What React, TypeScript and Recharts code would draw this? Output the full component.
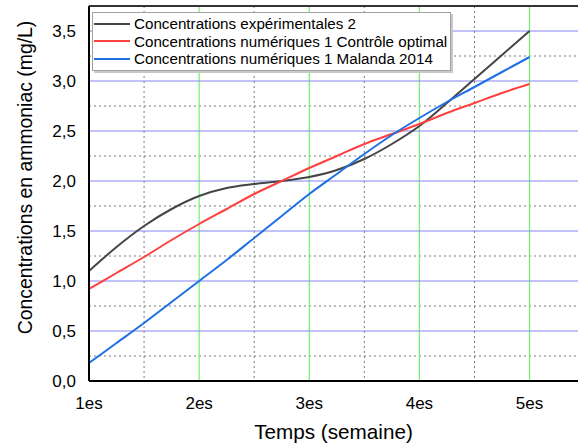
import {
  CartesianGrid,
  Legend,
  Line,
  LineChart,
  ReferenceLine,
  XAxis,
  YAxis
} from 'recharts'

const weeks = [1, 1.25, 1.5, 1.75, 2, 2.25, 2.5, 2.75, 3, 3.25, 3.5, 3.75, 4, 4.25, 4.5, 4.75, 5]
const experimental = [1.1, 1.34, 1.55, 1.72, 1.85, 1.93, 1.97, 2.0, 2.04, 2.11, 2.22, 2.37, 2.55, 2.78, 3.02, 3.26, 3.5]
const optimal = [0.92, 1.08, 1.24, 1.41, 1.57, 1.72, 1.87, 2.0, 2.13, 2.25, 2.37, 2.47, 2.57, 2.68, 2.78, 2.88, 2.97]
const malanda = [0.18, 0.38, 0.58, 0.79, 1.0, 1.21, 1.43, 1.65, 1.87, 2.07, 2.27, 2.46, 2.63, 2.79, 2.94, 3.09, 3.24]

const xTicks = [1, 2, 3, 4, 5]
const yTicks = [0, 0.5, 1, 1.5, 2, 2.5, 3, 3.5]
const yMinor = [0.25, 0.75, 1.25, 1.75, 2.25, 2.75, 3.25]
const xMinor = [1.5, 2.5, 3.5, 4.5]

const series = [
  { key: 'exp', name: 'Concentrations expérimentales 2', color: '#454545' },
  { key: 'opt', name: 'Concentrations numériques 1 Contrôle optimal', color: '#ff4040' },
  { key: 'mal', name: 'Concentrations numériques 1 Malanda 2014', color: '#1f6fe5' }
]

const data = weeks.map((w, i) => ({
  week: w,
  exp: experimental[i],
  opt: optimal[i],
  mal: malanda[i]
}))

const font = '"Liberation Sans", Arial, sans-serif'

function LegendBox() {
  return (
    <div
      style={{
        background: '#fff',
        border: '1px solid #a0a0a0',
        boxShadow: '2px 2px 0 #c8c8c8',
        padding: '2px 3px 2px 1px',
        fontFamily: font,
        fontSize: 15.2,
        color: '#000'
      }}
    >
      {series.map(s => (
        <div key={s.key} style={{ display: 'flex', alignItems: 'center', height: 17.5 }}>
          <span style={{ width: 36, height: 2, background: s.color, marginRight: 4 }} />
          <span style={{ whiteSpace: 'nowrap' }}>{s.name}</span>
        </div>
      ))}
    </div>
  )
}

function YTitle(props: any) {
  const vb = props.viewBox || { y: 6, height: 375 }
  const cx = 25
  const cy = vb.y + vb.height / 2 - 16
  return (
    <text
      x={cx}
      y={cy}
      transform={`rotate(-90 ${cx} ${cy})`}
      textAnchor="middle"
      dominantBaseline="central"
      fontFamily={font}
      fontSize={19.4}
      fill="#000"
    >
      Concentrations en ammoniac (mg/L)
    </text>
  )
}

export default function App() {
  return (
    <div style={{ position: 'absolute', left: 0, top: 0, width: 578, height: 448, overflow: 'hidden', background: '#fff' }}>
      <LineChart
        width={578}
        height={448}
        data={data}
        margin={{ top: 6, right: 0, left: 0, bottom: 0 }}
      >
        <CartesianGrid horizontal={false} verticalValues={xMinor} stroke="#7a7a7a" strokeDasharray="2 3" />
        <CartesianGrid vertical={false} horizontalValues={yMinor} stroke="#7a7a7a" strokeDasharray="2 3" />
        <CartesianGrid horizontal={false} verticalValues={[2, 3, 4, 5]} stroke="#70f070" strokeWidth={1.2} />
        <CartesianGrid vertical={false} horizontalValues={[0.5, 1, 1.5, 2, 2.5, 3, 3.5]} stroke="#8484f2" />
        <XAxis
          dataKey="week"
          type="number"
          domain={[1, 5.44]}
          allowDataOverflow
          ticks={xTicks}
          tickFormatter={v => `${v}es`}
          tickLine={false}
          tickMargin={10}
          axisLine={{ stroke: '#000', strokeWidth: 2 }}
          height={67}
          tick={{ fontFamily: font, fontSize: 17, fill: '#000' }}
          label={{ value: 'Temps (semaine)', position: 'insideBottom', offset: 9, fontFamily: font, fontSize: 20.7, fill: '#000' }}
        />
        <YAxis
          type="number"
          domain={[0, 3.75]}
          allowDataOverflow
          ticks={yTicks}
          tickFormatter={v => v.toFixed(1).replace('.', ',')}
          tickLine={false}
          tickMargin={7}
          axisLine={{ stroke: '#000', strokeWidth: 2 }}
          width={89}
          tick={{ fontFamily: font, fontSize: 17, fill: '#000' }}
          label={<YTitle />}
        />
        <ReferenceLine y={3.75} stroke="#333" strokeWidth={2} ifOverflow="visible" />
        {series.map(s => (
          <Line
            key={s.key}
            dataKey={s.key}
            name={s.name}
            type="monotone"
            stroke={s.color}
            strokeWidth={2}
            dot={false}
            isAnimationActive={false}
          />
        ))}
        <Legend
          layout="vertical"
          align="center"
          verticalAlign="middle"
          content={() => <LegendBox />}
          wrapperStyle={{ top: 12, left: 92, width: 'auto' }}
        />
      </LineChart>
    </div>
  )
}
